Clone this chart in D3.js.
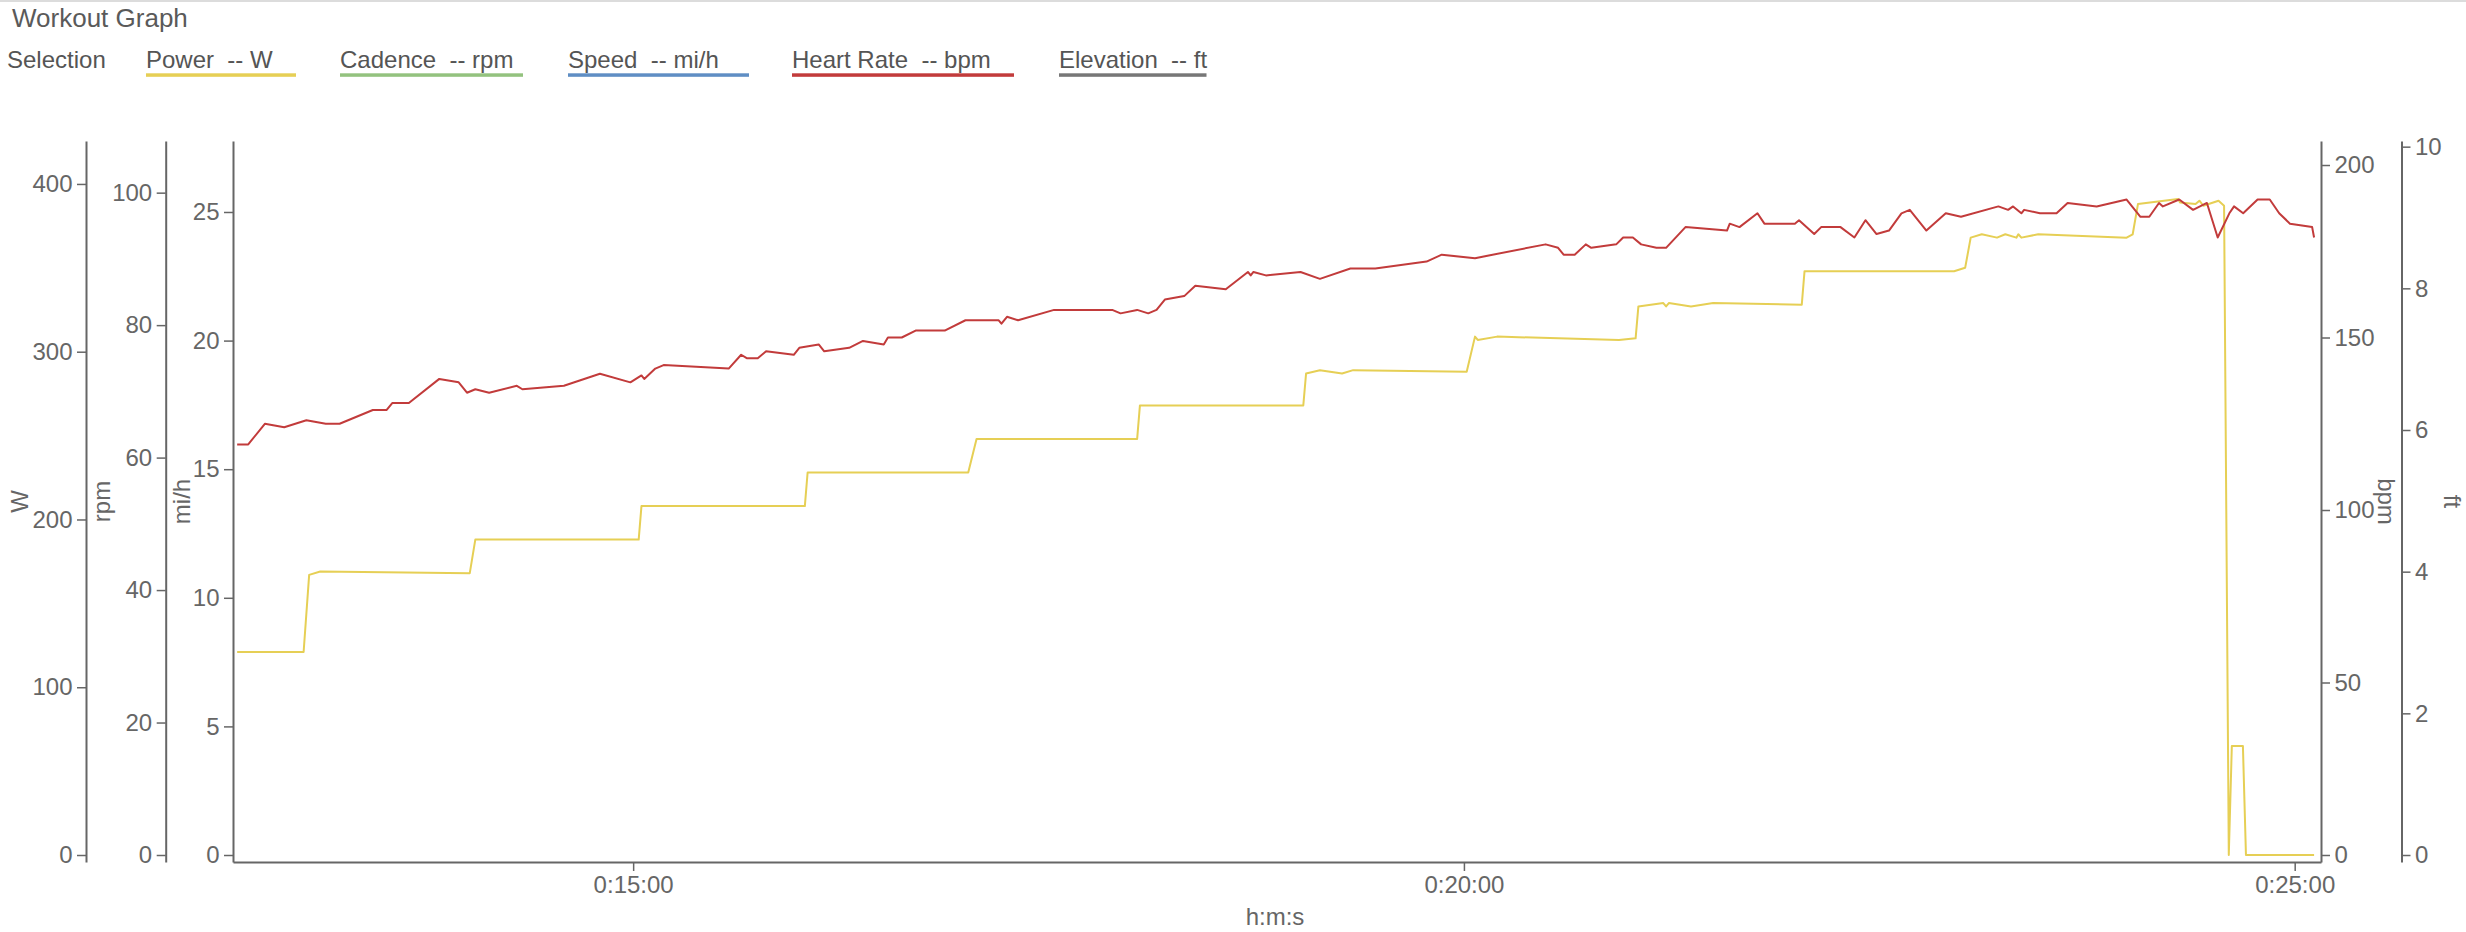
<!DOCTYPE html>
<html><head><meta charset="utf-8">
<script src="https://cdn.jsdelivr.net/npm/d3@7/dist/d3.min.js"></script>
<style>
html,body{margin:0;padding:0;background:#fff;}
svg{display:block;font-family:"Liberation Sans",Arial,Helvetica,sans-serif;}
</style></head><body>
<svg id="chart" width="2466" height="932"></svg>
<script>
// ---------- data ----------
const seriesNames  = ["Power", "Cadence", "Speed", "Heart Rate", "Elevation"];
const seriesUnits  = ["W", "rpm", "mi/h", "bpm", "ft"];
const seriesColors = ["#e6cf55", "#93c27e", "#5f8ec4", "#c23b3b", "#777777"];

const xTickSeconds = [900, 1200, 1500];
const xTickLabels  = ["0:15:00", "0:20:00", "0:25:00"];
const xDomainSeconds = [755.5, 1509.5];

const yDomainW   = [-4.17, 425.6];
const yDomainRpm = [-1.057, 107.8];
const yDomainMph = [-0.272, 27.76];
const yDomainBpm = [-2.03, 206.96];
const yDomainFt  = [-0.0988, 10.08];

const powerTime = [757,781,783,787,841,843,902,903,962,963,1021,1024,1082,1083,1142,1143,1148,1156,1160,1201,
  1204,1205,1212,1256,1262,1263,1272,1273,1274,1282,1290,1322,1323,1377,1381,1383,1387,1392.5,1395.5,1399.5,
  1400.2,1401.3,1407.4,1439.3,1441.5,1443.4,1457.9,1458.6,1464.2,1465.6,1467,1472.5,1474.5,1476.2,1477.3,1481.3,1482.4,1507];
const powerWatts = [121,121,167,169,168,188,188,208,208,228,228,248,248,268,268,287,289,287,289,288,
  309,307,309,307,308,327,329,327,329,327,329,328,348,348,350,368,370,368,370,368,
  370,368,370,368,370,388,391,389,388,390,387,390,387,0,65,65,0,0];

const hrTime = [757,761,767,774,782,789,794,806,811,813,819,830,837,840,843,848,858,860,875,888,
  899,903,904,908,911,934.5,939,941,945,948,958,960,967,969,978,983,990.5,992,997,1002,
  1012.5,1020,1032,1033,1035,1039,1052,1073,1076,1082,1086,1089,1092,1099,1103,1114,1122,1123,1124,1128.5,
  1141,1148,1159,1168,1186.5,1192,1204,1229.5,1234,1236,1240,1244,1246,1255,1257.5,1261,1264,1269.5,1273,1280,
  1295,1296,1299.5,1306,1308.5,1319.5,1321,1326.5,1329,1336,1341,1345,1349,1353.5,1358,1361,1367,1374,1379.5,1393,
  1396.5,1398.3,1401.3,1402.3,1408,1414,1418,1428.5,1439.3,1444.3,1447.5,1451,1452.4,1458.3,1463.3,1468.3,1472.2,1476.4,1478.1,1481.4,
  1486.6,1491,1494.4,1498.3,1506.3,1507];
const hrBpm = [119,119,125,124,126,125,125,129,129,131,131,138,137,134,135,134,136,135,136,139.5,
  137,139,138,141,142,141,145,144,144,146,145,147,148,146,147,149,148,150,150,152,
  152,155,155,154,156,155,158,158,157,158,157,158,161,162,165,164,169,168,169,168,
  169,167,170,170,172,174,173,177,176,174,174,177,176,177,179,179,177,176,176,182,
  181,183,182,186,183,183,184,180,182,182,179,184,180,181,186,187,181,186,185,188,
  187,188,186,187,186,186,189,188,190,185,185,189,188,190,187,189,179,186,188,186,
  190,190,186,183,182,179];

// ---------- layout ----------
const W = 2466, H = 932;
const plotLeft = 233, plotRight = 2321, plotTop = 141, plotBottom = 862;
const axisX = { W: 86, rpm: 165.7, mph: 233, bpm: 2321, ft: 2401.5 };
const labelX = { W: 19, rpm: 101.7, mph: 181, bpm: 2386, ft: 2452 };
const legendX = [146, 340, 568, 792, 1059];
const legendLineW = [150, 183, 181, 222, 147.5];
const ink = "#666";

const svg = d3.select("#chart");

// top border
svg.append("rect").attr("x", 0).attr("y", 0).attr("width", W).attr("height", 2).attr("fill", "#dcdcdc");

// title
svg.append("text").attr("x", 12).attr("y", 27).attr("font-size", 26).attr("fill", "#5a5a5a").text("Workout Graph");

// legend
svg.append("text").attr("x", 7).attr("y", 68).attr("font-size", 24).attr("fill", "#555").text("Selection");
const leg = svg.selectAll("g.leg").data(seriesNames).join("g").attr("class", "leg")
  .attr("transform", (d, i) => `translate(${legendX[i]},0)`);
leg.append("text").attr("y", 68).attr("font-size", 24).attr("fill", "#555")
  .style("white-space", "pre").text((d, i) => `${d}  -- ${seriesUnits[i]}`);
leg.append("rect").attr("x", 0).attr("y", 73.3).attr("height", 3.5)
  .attr("width", (d, i) => legendLineW[i]).attr("fill", (d, i) => seriesColors[i]);

// scales
const x = d3.scaleLinear().domain(xDomainSeconds).range([plotLeft, plotRight]);
const yW   = d3.scaleLinear().domain(yDomainW).range([plotBottom, plotTop]);
const yRpm = d3.scaleLinear().domain(yDomainRpm).range([plotBottom, plotTop]);
const yMph = d3.scaleLinear().domain(yDomainMph).range([plotBottom, plotTop]);
const yBpm = d3.scaleLinear().domain(yDomainBpm).range([plotBottom, plotTop]);
const yFt  = d3.scaleLinear().domain(yDomainFt).range([plotBottom, plotTop]);

function styleAxis(g) {
  g.select(".domain").attr("stroke", ink).attr("stroke-width", 2);
  g.selectAll(".tick line").attr("stroke", ink).attr("stroke-width", 1.5);
  g.selectAll(".tick text").attr("fill", ink).attr("font-size", 24)
    .attr("font-family", '"Liberation Sans",Arial,Helvetica,sans-serif');
}

const yAxes = [
  { key: "W",   scale: yW,   side: "left",  unit: "W" },
  { key: "rpm", scale: yRpm, side: "left",  unit: "rpm" },
  { key: "mph", scale: yMph, side: "left",  unit: "mi/h" },
  { key: "bpm", scale: yBpm, side: "right", unit: "bpm" },
  { key: "ft",  scale: yFt,  side: "right", unit: "ft" }
];
yAxes.forEach(a => {
  const ax = (a.side === "left" ? d3.axisLeft(a.scale) : d3.axisRight(a.scale))
    .ticks(5).tickSize(9).tickPadding(4.5).tickSizeOuter(0);
  svg.append("g").attr("transform", `translate(${axisX[a.key]},0)`).call(ax).call(styleAxis);
  const cy = (plotTop + plotBottom) / 2;
  svg.append("text")
    .attr("transform", `translate(${labelX[a.key]},${cy}) rotate(${a.side === "left" ? -90 : 90})`)
    .attr("text-anchor", "middle").attr("dominant-baseline", "central")
    .attr("font-size", 24).attr("fill", ink).text(a.unit);
});

// x axis
const xAxis = d3.axisBottom(x).tickValues(xTickSeconds)
  .tickFormat((d, i) => xTickLabels[i]).tickSize(9).tickPadding(4.5).tickSizeOuter(0);
svg.append("g").attr("transform", `translate(0,${plotBottom})`).call(xAxis).call(styleAxis);
svg.append("text").attr("x", 1275).attr("y", 925).attr("text-anchor", "middle")
  .attr("font-size", 24).attr("fill", ink).text("h:m:s");

// lines
const powerData = powerTime.map((t, i) => [t, powerWatts[i]]);
const hrData = hrTime.map((t, i) => [t, hrBpm[i]]);

svg.append("path").datum(powerData)
  .attr("fill", "none").attr("stroke", seriesColors[0]).attr("stroke-width", 2).attr("stroke-linejoin", "round")
  .attr("d", d3.line().x(d => x(d[0])).y(d => yW(d[1])));
svg.append("path").datum(hrData)
  .attr("fill", "none").attr("stroke", seriesColors[3]).attr("stroke-width", 2).attr("stroke-linejoin", "round")
  .attr("d", d3.line().x(d => x(d[0])).y(d => yBpm(d[1])));
</script>
</body></html>
